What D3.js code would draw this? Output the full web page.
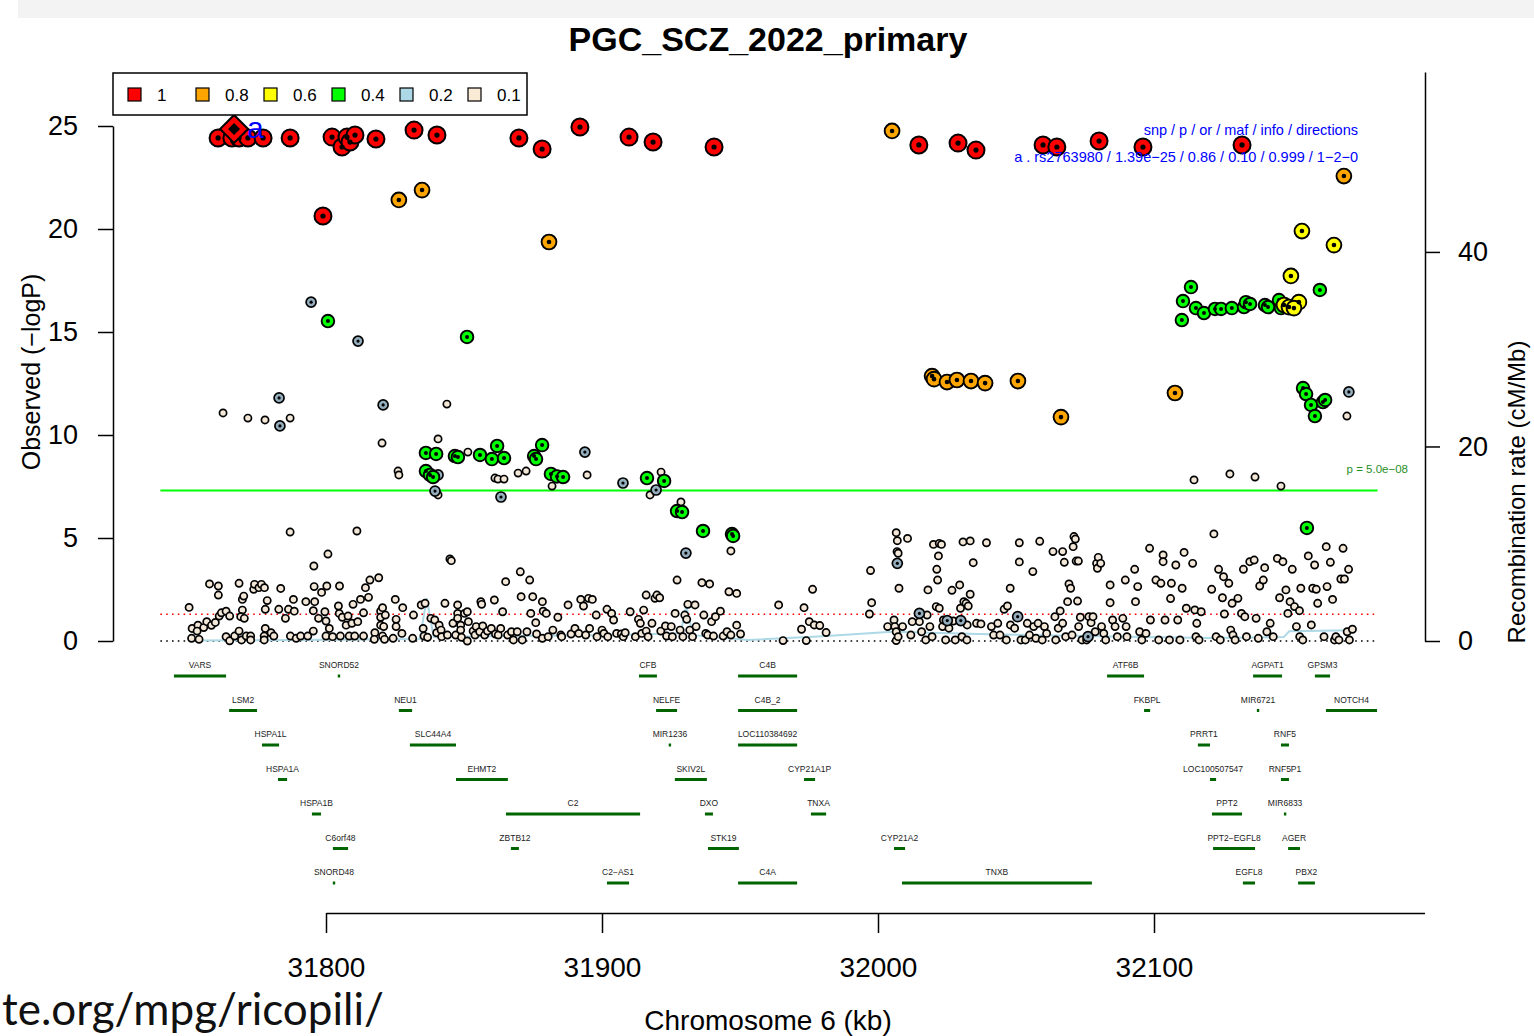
<!DOCTYPE html>
<html>
<head>
<meta charset="utf-8">
<script src="https://cdn.jsdelivr.net/npm/d3@7"></script>
<style>
  body { margin: 0; background: #fff; }
  text { font-family: "Liberation Sans", Arial, sans-serif; }
</style>
</head>
<body>
<div id="chart"></div>
<script>
// LD legend
const ldLabels = ["1", "0.8", "0.6", "0.4", "0.2", "0.1"];
const ldColors = ["#ff0000", "#ffa500", "#ffff00", "#00ff00", "#add8e6", "#faebd7"];

// SNPs as [position kb, -log10 p], one array per LD bin
const ld10 = [
  [31760.9, 24.42], [31765.9, 24.42], [31768.5, 24.42], [31771.7, 24.42], [31777.2, 24.42],
  [31787.0, 24.42], [31802.2, 24.46], [31805.8, 23.98], [31807.6, 24.46], [31808.7, 24.22],
  [31810.5, 24.56], [31818.1, 24.37], [31831.9, 24.80], [31840.2, 24.56], [31798.9, 20.63],
  [31869.9, 24.42], [31878.3, 23.88], [31892.0, 24.95], [31909.8, 24.46], [31918.5, 24.22],
  [31940.6, 23.98], [32014.8, 24.08], [32029.0, 24.17], [32035.5, 23.83], [32059.8, 24.08],
  [32064.8, 23.98], [32080.1, 24.27], [32096.0, 23.98], [32131.9, 24.08]
];
const ld08 = [
  [31826.4, 21.41], [31834.8, 21.89], [31880.8, 19.37], [32005.1, 24.76], [32168.8, 22.57],
  [32019.6, 12.86], [32020.3, 12.71], [32025.0, 12.57], [32028.6, 12.67], [32033.7, 12.62],
  [32038.8, 12.52], [32050.7, 12.62], [32066.3, 10.87], [32107.6, 12.04]
];
const ld06 = [
  [32153.6, 19.90], [32165.2, 19.22], [32149.6, 17.72], [32152.5, 16.45], [32147.1, 16.31],
  [32148.9, 16.21], [32150.7, 16.16]
];
const ld04 = [
  [31800.7, 15.53], [31851.1, 14.76], [31836.2, 9.13], [31839.9, 9.08], [31846.7, 8.98],
  [31847.8, 8.93], [31855.8, 9.03], [31862.0, 9.47], [31860.1, 8.83], [31864.5, 8.88],
  [31875.4, 8.98], [31876.1, 8.83], [31878.3, 9.51], [31836.2, 8.25], [31837.7, 8.06],
  [31838.8, 7.96], [31881.5, 8.11], [31883.7, 7.99], [31885.9, 7.96], [31916.3, 7.91],
  [31922.5, 7.77], [31927.2, 6.31], [31929.0, 6.26], [31936.6, 5.34], [31947.1, 5.19],
  [31947.5, 5.10],
  [32113.4, 17.18], [32110.5, 16.50], [32110.1, 15.58], [32115.2, 16.16], [32118.1, 15.92],
  [32122.1, 16.12], [32124.3, 16.12], [32128.2, 16.16], [32132.6, 16.21], [32133.3, 16.45],
  [32134.8, 16.36], [32140.2, 16.31], [32141.3, 16.21], [32145.3, 16.55], [32146.0, 16.16],
  [32160.1, 17.04], [32154.0, 12.28], [32155.1, 11.99], [32156.9, 11.46], [32158.3, 10.92],
  [32161.2, 11.60], [32162.0, 11.70], [32155.4, 5.49]
];
const ld02 = [
  [31794.6, 16.45], [31811.6, 14.56], [31783.0, 11.80], [31783.3, 10.44], [31820.7, 11.46],
  [31893.8, 9.17], [31907.6, 7.67], [31919.6, 7.33], [31930.4, 4.27], [31863.4, 6.99],
  [31839.5, 7.28], [31840.6, 8.06], [32170.6, 12.09],
  [32007.0, 3.77], [32015.0, 1.34], [32025.1, 0.99], [32030.0, 0.99], [32050.6, 1.18], [32076.1, 0.21]
];
const ld01 = [
  // upper left scatter
  [31762.7, 11.07], [31771.7, 10.82], [31777.9, 10.73], [31787.0, 10.82], [31843.8, 11.50],
  [31820.3, 9.61], [31840.6, 9.81], [31851.4, 9.17], [31826.1, 8.25], [31826.4, 8.06],
  [31861.2, 7.91], [31862.3, 7.86], [31864.5, 7.86], [31869.6, 8.15], [31872.5, 8.25],
  [31881.9, 7.52], [31894.6, 8.06], [31840.6, 7.09], [31787.0, 5.29], [31811.2, 5.34],
  [31800.7, 4.22], [31844.9, 3.98], [31921.4, 8.20], [31917.4, 7.09], [31928.6, 6.75],
  [31946.7, 4.37], [32114.5, 7.82], [32127.5, 8.11], [32136.6, 7.96], [32146.0, 7.52],
  [32169.9, 10.92],
  // low band, left part
  [31750.4, 1.63], [31751.3, 0.13], [31751.5, 0.61], [31753.6, 0.77], [31754.0, 0.08],
  [31753.3, 0.48], [31755.7, 0.65], [31756.8, 0.94], [31757.8, 2.77], [31758.5, 0.76],
  [31759.9, 0.90], [31761.0, 2.67], [31761.0, 2.23], [31761.3, 1.21], [31762.1, 1.37],
  [31763.8, 1.45], [31763.8, 0.21], [31765.1, 1.21], [31765.1, 0.01], [31766.9, 0.24],
  [31768.5, 2.80], [31768.5, 0.48], [31769.4, 0.05], [31769.7, 1.50], [31769.7, 2.02],
  [31770.2, 2.18], [31769.1, 1.18], [31770.4, 1.10], [31771.1, 0.24], [31772.7, 0.24],
  [31772.7, 0.05], [31773.8, 2.51], [31774.1, 2.75], [31775.7, 2.59], [31776.6, 2.75],
  [31777.7, 2.59], [31777.6, 0.24], [31777.6, 0.05], [31778.0, 1.54], [31778.7, 1.96],
  [31778.0, 0.61], [31780.1, 0.40], [31781.1, 0.24], [31783.6, 2.55], [31782.9, 1.54],
  [31785.3, 1.10], [31786.4, 1.54], [31787.1, 0.24], [31788.2, 2.02], [31788.5, 1.45],
  [31789.2, 0.13], [31790.8, 0.24], [31792.7, 1.91], [31793.4, 0.24], [31795.6, 3.64],
  [31795.7, 2.64], [31795.9, 1.91], [31795.4, 1.47], [31795.4, 0.48], [31797.3, 1.10],
  [31798.4, 2.36], [31799.6, 1.42], [31800.3, 2.67], [31800.0, 0.97], [31800.0, 0.24],
  [31801.2, 0.61], [31802.4, 0.21], [31804.5, 1.70], [31804.9, 2.67], [31804.8, 1.34],
  [31805.2, 0.24], [31805.9, 1.15], [31807.3, 0.77], [31808.0, 1.21], [31808.4, 0.24],
  [31809.4, 0.86], [31809.8, 1.78], [31810.4, 0.24], [31811.5, 0.94], [31812.5, 2.02],
  [31813.6, 0.24], [31813.6, 1.37], [31814.3, 2.59], [31815.4, 2.12], [31815.9, 2.96],
  [31817.7, 0.40], [31817.5, 0.08], [31819.1, 3.07], [31819.8, 1.45], [31819.8, 1.15],
  [31819.8, 0.77], [31820.5, 1.62], [31820.5, 0.24], [31821.2, 0.08], [31820.9, 0.70],
  [31821.5, 1.26], [31825.1, 2.02], [31825.4, 1.05], [31825.4, 0.70], [31824.3, 0.13],
  [31827.8, 1.62], [31827.5, 0.37], [31831.7, 1.26], [31831.4, 0.13], [31834.5, 1.75],
  [31835.2, 0.61], [31835.9, 1.83], [31835.5, 0.24], [31836.8, 0.18], [31838.0, 1.10],
  [31839.4, 1.02], [31840.1, 0.40], [31841.0, 0.77], [31841.7, 0.53], [31841.9, 0.21],
  [31843.1, 1.83], [31844.0, 0.29], [31845.4, 3.90], [31846.0, 0.86], [31847.0, 0.29],
  [31847.7, 1.75], [31847.7, 1.34], [31847.7, 1.10], [31848.8, 0.77], [31848.8, 0.53],
  [31849.1, 0.18], [31850.2, 1.34], [31851.2, 1.42], [31851.2, 0.00], [31851.6, 0.94],
  [31853.3, 0.48], [31854.0, 0.29], [31854.4, 0.70], [31855.7, 0.45], [31856.1, 1.91],
  [31856.4, 1.78], [31856.8, 0.73], [31857.5, 0.29], [31858.5, 0.48], [31859.9, 0.61],
  [31861.0, 1.99], [31861.4, 0.34], [31862.4, 0.29], [31863.3, 0.61], [31864.0, 1.42],
  [31865.1, 2.88], [31865.8, 0.29], [31867.2, 0.45], [31867.9, 0.05], [31869.3, 0.45],
  [31870.4, 3.36], [31870.7, 2.15], [31871.1, 0.05], [31872.8, 0.45], [31873.8, 2.96],
  [31874.2, 1.34], [31874.9, 2.15], [31876.0, 0.89], [31876.3, 0.34], [31878.4, 1.91],
  [31878.7, 1.45], [31878.4, 0.13], [31879.8, 1.34], [31880.5, 0.21], [31882.2, 0.53],
  [31884.0, 1.15], [31885.1, 0.29], [31885.4, 0.21], [31887.7, 1.75], [31888.8, 0.34],
  [31890.2, 0.61], [31891.6, 0.37], [31892.3, 2.02], [31893.3, 1.70], [31894.1, 0.29],
  [31895.1, 2.07], [31895.5, 0.61], [31896.5, 2.02], [31897.9, 1.26], [31898.2, 0.21],
  [31900.0, 0.53], [31900.7, 0.37], [31901.8, 1.54], [31902.1, 0.21], [31903.5, 1.34],
  [31904.2, 1.02], [31905.3, 0.37], [31907.0, 0.34], [31907.7, 0.21], [31908.4, 0.40],
  [31910.2, 1.42], [31912.1, 0.21], [31913.2, 1.05], [31913.9, 0.86], [31914.4, 0.37],
  [31915.1, 1.50], [31916.0, 2.23], [31916.0, 0.48], [31916.7, 0.21], [31918.1, 0.86],
  [31919.2, 2.07], [31919.9, 2.23], [31920.9, 2.10], [31921.3, 0.48], [31923.0, 0.73],
  [31923.4, 0.24], [31925.1, 0.70], [31925.5, 0.21], [31927.2, 2.96], [31926.5, 1.34],
  [31928.3, 0.53], [31929.3, 0.21], [31930.0, 1.26], [31930.7, 1.05], [31931.1, 1.78],
  [31931.8, 0.53], [31932.8, 0.21], [31933.7, 1.75], [31934.1, 0.70], [31936.2, 2.83],
  [31936.9, 1.26], [31937.6, 0.37], [31939.0, 2.77], [31938.3, 0.29], [31939.7, 0.94],
  [31940.4, 0.24], [31941.1, 1.18], [31942.9, 1.45], [31943.9, 0.24], [31945.3, 0.45],
  [31946.0, 2.39], [31946.7, 0.29], [31948.8, 2.31], [31948.8, 0.77], [31950.2, 0.34],
  // low band, right part
  [31964.0, 1.75], [31965.6, 0.02], [31972.3, 0.57], [31973.2, 1.62], [31974.0, 0.02],
  [31975.1, 0.94], [31976.3, 2.51], [31976.9, 0.78], [31978.9, 0.75], [31981.2, 0.41],
  [31997.3, 3.42], [31997.7, 1.86], [31996.9, 1.31], [32003.5, 0.70], [32006.6, 5.26],
  [32007.0, 4.87], [32006.9, 4.34], [32007.3, 4.26], [32007.6, 2.56], [32005.8, 1.02],
  [32006.1, 0.70], [32006.6, 0.45], [32006.6, 0.02], [32007.3, 0.21], [32008.9, 0.70],
  [32010.7, 4.98], [32011.9, 0.29], [32012.4, 0.94], [32015.0, 0.94], [32015.8, 0.45],
  [32017.3, 0.05], [32017.8, 1.26], [32018.1, 2.48], [32018.8, 0.70], [32019.6, 0.21],
  [32020.1, 4.69], [32021.1, 1.67], [32021.3, 3.48], [32021.6, 2.96], [32021.9, 4.13],
  [32022.2, 4.74], [32023.0, 4.69], [32022.2, 1.59], [32023.4, 0.70], [32023.7, 1.02],
  [32024.5, 0.05], [32025.7, 0.62], [32026.8, 2.46], [32027.3, 0.97], [32028.0, 0.05],
  [32029.6, 2.72], [32029.9, 1.59], [32030.4, 0.21], [32030.8, 4.81], [32031.1, 1.91],
  [32031.9, 1.83], [32032.2, 0.05], [32032.3, 0.78], [32032.7, 1.70], [32033.4, 4.86],
  [32033.4, 2.27], [32034.5, 3.80], [32035.7, 0.86], [32037.3, 0.83], [32039.3, 4.77],
  [32041.1, 0.70], [32041.9, 0.29], [32043.4, 0.86], [32044.2, 0.29], [32045.7, 1.54],
  [32046.5, 0.05], [32046.9, 1.70], [32048.0, 0.78], [32047.9, 2.56], [32049.5, 0.62],
  [32051.2, 4.77], [32051.2, 3.84], [32051.8, 0.05], [32053.4, 0.05], [32054.1, 0.86],
  [32054.9, 0.29], [32056.1, 3.37], [32056.4, 0.70], [32057.2, 0.13], [32058.0, 0.86],
  [32058.6, 4.84], [32059.5, 0.05], [32060.3, 0.70], [32061.1, 0.37], [32063.4, 4.34],
  [32064.1, 1.18], [32064.4, 0.05], [32065.3, 0.62], [32066.0, 1.46], [32066.9, 4.34],
  [32067.5, 3.82], [32066.9, 0.86], [32068.0, 0.21], [32068.7, 1.91], [32069.2, 2.77],
  [32069.8, 2.56], [32070.3, 0.29], [32070.7, 4.58], [32071.0, 5.07], [32071.5, 4.95],
  [32071.8, 3.88], [32072.6, 3.88], [32072.3, 1.94], [32072.7, 0.70], [32073.3, 1.15],
  [32073.9, 0.05], [32075.6, 0.05], [32076.4, 1.18], [32077.2, 0.89], [32077.9, 1.18],
  [32078.7, 0.45], [32079.2, 3.77], [32079.5, 3.53], [32079.8, 4.06], [32080.7, 3.77],
  [32081.0, 0.70], [32081.8, 0.37], [32082.5, 0.05], [32084.1, 2.72], [32084.1, 1.86],
  [32085.0, 1.02], [32085.9, 0.70], [32086.7, 0.21], [32088.7, 1.10], [32089.6, 2.96],
  [32089.9, 0.70], [32090.2, 0.21], [32093.0, 3.48], [32093.3, 1.91], [32094.1, 2.64],
  [32094.8, 0.45], [32095.6, 0.05], [32097.1, 0.37], [32098.4, 4.50], [32098.7, 1.02],
  [32100.7, 2.96], [32101.7, 0.05], [32102.5, 2.80], [32103.3, 4.18], [32103.3, 3.85],
  [32104.0, 1.02], [32105.6, 0.05], [32106.0, 2.06], [32106.3, 2.80], [32107.9, 3.69],
  [32108.6, 1.02], [32109.4, 0.05], [32110.2, 2.56], [32110.9, 4.30], [32111.7, 1.59],
  [32114.0, 3.77], [32114.8, 1.51], [32115.2, 0.21], [32115.5, 0.86], [32116.3, 0.05],
  [32117.1, 1.42], [32120.9, 2.51], [32121.7, 5.20], [32122.5, 0.21], [32123.4, 3.48],
  [32124.0, 0.05], [32124.8, 2.10], [32125.2, 3.12], [32125.5, 1.31], [32127.1, 2.80],
  [32127.8, 0.53], [32128.3, 1.83], [32128.6, 0.29], [32129.4, 0.05], [32130.4, 2.07],
  [32131.7, 1.34], [32132.4, 3.48], [32132.9, 1.18], [32133.5, 0.21], [32134.7, 3.85],
  [32136.3, 3.93], [32137.0, 1.10], [32137.8, 0.13], [32138.3, 2.67], [32139.6, 2.96],
  [32140.1, 3.56], [32140.9, 0.45], [32142.1, 0.86], [32143.2, 0.21], [32144.7, 4.01],
  [32145.5, 2.10], [32146.7, 3.85], [32147.8, 2.48], [32148.5, 1.34], [32149.3, 1.91],
  [32150.1, 3.48], [32150.9, 1.67], [32151.6, 0.70], [32152.7, 1.47], [32153.2, 2.56],
  [32152.8, 0.21], [32153.9, 0.05], [32155.9, 4.13], [32157.0, 0.78], [32157.5, 2.56],
  [32158.2, 3.69], [32158.8, 2.51], [32159.3, 1.83], [32161.6, 0.21], [32162.4, 4.58],
  [32162.7, 2.64], [32163.9, 3.82], [32164.7, 2.02], [32165.4, 0.05], [32165.9, 0.21],
  [32167.0, 0.05], [32167.7, 3.01], [32168.5, 4.50], [32169.0, 3.01], [32170.0, 0.45],
  [32170.5, 3.48], [32170.8, 0.05], [32171.9, 0.57]
];

// index SNP
const indexSnp = { label: "a", pos: 31766.7, logp: 24.857 };
const annotHeader = "snp / p / or / maf / info / directions";
const annotLine = "a . rs2763980 / 1.39e\u221225 / 0.86 / 0.10 / 0.999 / 1\u22122\u22120";

// recombination rate [kb, cM/Mb]
const recomb = [
  [31752, 0.05], [31790, 0.1], [31834, 0.2], [31836.5, 4.4], [31839, 0.4], [31860, 0.5],
  [31900, 0.6], [31928.5, 0.8], [31930.5, 3.6], [31933, 0.6], [31953, 0.1], [31980, 0.5],
  [32005, 0.95], [32040, 0.7], [32080, 0.5], [32120, 0.3], [32147, 0.4], [32149, 1.0], [32172, 1.1]
];

// genes: [name, start kb, end kb, row]
const genes = [
  ["VARS", 31744.9, 31763.8, 0], ["SNORD52", 31804.7, 31804.7, 0], ["CFB", 31913.4, 31919.9, 0],
  ["C4B", 31949.3, 31970.7, 0], ["ATF6B", 32083.0, 32096.4, 0], ["AGPAT1", 32135.9, 32146.4, 0],
  ["GPSM3", 32158.3, 32163.8, 0],
  ["LSM2", 31764.9, 31775.0, 1], ["NEU1", 31826.4, 31831.2, 1], ["NELFE", 31919.6, 31927.2, 1],
  ["C4B_2", 31949.3, 31970.7, 1], ["FKBPL", 32096.4, 32098.6, 1], ["MIR6721", 32137.7, 32137.7, 1],
  ["NOTCH4", 32162.3, 32180.8, 1],
  ["HSPA1L", 31776.8, 31783.0, 2], ["SLC44A4", 31830.4, 31847.1, 2], ["MIR1236", 31924.6, 31924.6, 2],
  ["LOC110384692", 31949.3, 31970.7, 2], ["PRRT1", 32115.9, 32120.3, 2], ["RNF5", 32146.0, 32148.9, 2],
  ["HSPA1A", 31782.6, 31785.9, 3], ["EHMT2", 31847.1, 31865.9, 3], ["SKIV2L", 31926.4, 31938.0, 3],
  ["CYP21A1P", 31973.2, 31977.2, 3], ["LOC100507547", 32120.3, 32122.5, 3], ["RNF5P1", 32146.0, 32148.9, 3],
  ["HSPA1B", 31794.9, 31798.2, 4], ["C2", 31865.2, 31913.8, 4], ["DXO", 31937.3, 31940.2, 4],
  ["TNXA", 31975.7, 31981.2, 4], ["PPT2", 32121.0, 32131.9, 4], ["MIR6833", 32147.5, 32147.5, 4],
  ["C6orf48", 31802.5, 31808.0, 5], ["ZBTB12", 31867.0, 31869.9, 5], ["STK19", 31938.4, 31949.6, 5],
  ["CYP21A2", 32005.8, 32009.8, 5], ["PPT2\u2212EGFL8", 32121.4, 32136.6, 5], ["AGER", 32148.6, 32152.9, 5],
  ["SNORD48", 31802.9, 31802.9, 6], ["C2\u2212AS1", 31901.8, 31909.8, 6], ["C4A", 31949.3, 31970.7, 6],
  ["TNXB", 32008.7, 32077.5, 6], ["EGFL8", 32132.2, 32136.6, 6], ["PBX2", 32152.2, 32158.3, 6]
];

const xTicks = [31800, 31900, 32000, 32100];
const yTicks = [0, 5, 10, 15, 20, 25];
const rTicks = [0, 20, 40];
const gwsLine = 7.30103;   // p = 5e-08
const nomLine = 1.30103;   // p = 0.05
const lineSpan = [31740, 32181];

const W = 1534, H = 1036;
const svg = d3.select("#chart").append("svg")
  .attr("width", W).attr("height", H)
  .style("display", "block");

const x = d3.scaleLinear().domain([31800, 32100]).range([326, 1154]);
const y = d3.scaleLinear().domain([0, 25]).range([641, 126]);
const yR = d3.scaleLinear().domain([0, 58.5]).range([641, 72]);
const row = d3.scaleLinear().domain([0, 6]).range([676, 883]);

// slide edge at top
svg.append("rect").attr("x", 18).attr("y", 0).attr("width", W - 18).attr("height", 18)
  .attr("fill", "#f3f3f3");

// title
svg.append("text").attr("x", 768).attr("y", 51)
  .attr("text-anchor", "middle").style("font-size", "34px").style("font-weight", "bold")
  .text("PGC_SCZ_2022_primary");

// threshold lines
const hline = (v, color, dash, w) => svg.append("line")
  .attr("x1", x(lineSpan[0])).attr("x2", x(lineSpan[1]))
  .attr("y1", y(v)).attr("y2", y(v))
  .attr("stroke", color).attr("stroke-width", w)
  .attr("stroke-dasharray", dash);
hline(0, "#000", "1.6,4.2", 1.6);
hline(nomLine, "#ff0000", "1.6,4.2", 1.6);
hline(gwsLine, "#00ff00", null, 2);

svg.append("text").attr("x", 1408).attr("y", 473).attr("text-anchor", "end")
  .style("font-size", "11.5px").attr("fill", "#1f8f1f").text("p = 5.0e\u221208");

// recombination rate
svg.append("path").datum(recomb)
  .attr("d", d3.line().x(d => x(d[0])).y(d => yR(d[1])))
  .attr("fill", "none").attr("stroke", "#add8e6").attr("stroke-width", 2);

// points, low LD first
const ptStyle = [
  { r: 8.5, sw: 2.0, dot: 2.6, fill: "#ff0000" },
  { r: 7.4, sw: 1.9, dot: 2.3, fill: "#ffa500" },
  { r: 7.4, sw: 1.9, dot: 2.3, fill: "#ffff00" },
  { r: 6.3, sw: 1.9, dot: 2.0, fill: "#00ff00" },
  { r: 5.0, sw: 1.7, dot: 1.6, fill: "#94aebd" },
  { r: 3.6, sw: 1.7, dot: 0, fill: "#f3e7d8" }
];
const sets = [ld10, ld08, ld06, ld04, ld02, ld01];
const gp = svg.append("g");
for (let i = sets.length - 1; i >= 0; i--) {
  const s = ptStyle[i];
  const g = gp.append("g");
  g.selectAll("circle").data(sets[i]).join("circle")
    .attr("cx", d => x(d[0])).attr("cy", d => y(d[1])).attr("r", s.r)
    .attr("fill", s.fill).attr("stroke", "#000").attr("stroke-width", s.sw);
  if (s.dot) {
    g.selectAll("circle.dot").data(sets[i]).join("circle").attr("class", "dot")
      .attr("cx", d => x(d[0])).attr("cy", d => y(d[1])).attr("r", s.dot).attr("fill", "#000");
  }
}

// index SNP diamond
const ix = x(indexSnp.pos), iy = y(indexSnp.logp);
svg.append("path")
  .attr("d", `M${ix},${iy - 14}L${ix + 14},${iy}L${ix},${iy + 14}L${ix - 14},${iy}Z`)
  .attr("fill", "#ff0000").attr("stroke", "#000").attr("stroke-width", 2);
svg.append("path")
  .attr("d", `M${ix},${iy - 6}L${ix + 6},${iy}L${ix},${iy + 6}L${ix - 6},${iy}Z`)
  .attr("fill", "#000");
svg.append("text").attr("x", ix + 13).attr("y", iy + 9)
  .style("font-size", "30px").attr("fill", "#0000ff").text(indexSnp.label);

// annotation
svg.append("text").attr("x", 1358).attr("y", 135).attr("text-anchor", "end")
  .style("font-size", "14.5px").attr("fill", "#0000ff").text(annotHeader);
svg.append("text").attr("x", 1358).attr("y", 162).attr("text-anchor", "end")
  .style("font-size", "14.5px").attr("fill", "#0000ff").text(annotLine);

// legend
const lg = svg.append("g");
lg.append("rect").attr("x", 113).attr("y", 73).attr("width", 414).attr("height", 42)
  .attr("fill", "#fff").attr("stroke", "#000").attr("stroke-width", 1.5);
const li = lg.selectAll("g.item").data(ldLabels).join("g").attr("class", "item")
  .attr("transform", (d, i) => `translate(${128 + i * 68},88)`);
li.append("rect").attr("width", 13).attr("height", 13)
  .attr("fill", (d, i) => ldColors[i]).attr("stroke", "#000").attr("stroke-width", 1.2);
li.append("text").attr("x", 29).attr("y", 13).style("font-size", "17px").text(d => d);

// axes
function styleAxis(g, fs) {
  g.selectAll("path.domain").attr("stroke-width", 1.5);
  g.selectAll(".tick line").attr("stroke-width", 1.5);
  g.selectAll(".tick text").style("font-size", fs).style("font-family", "'Liberation Sans', Arial, sans-serif").attr("fill", "#000");
}
svg.append("g").attr("transform", "translate(113,0)")
  .call(d3.axisLeft(y).tickValues(yTicks).tickSize(15).tickSizeOuter(0).tickPadding(20).tickFormat(d3.format("d")))
  .call(g => styleAxis(g, "27px"));
svg.append("g").attr("transform", "translate(1425,0)")
  .call(d3.axisRight(yR).tickValues(rTicks).tickSize(15).tickSizeOuter(0).tickPadding(18).tickFormat(d3.format("d")))
  .call(g => styleAxis(g, "27px"));
const xAxisScale = d3.scaleLinear().domain([31800, 32198]).range([x(31800), x(32198)]);
svg.append("g").attr("transform", "translate(0,913)")
  .call(d3.axisBottom(xAxisScale).tickValues(xTicks).tickSize(20).tickSizeOuter(0).tickPadding(24).tickFormat(d3.format("d")))
  .call(g => styleAxis(g, "28px"));

// axis titles
svg.append("text").attr("transform", "translate(40,372) rotate(-90)").attr("text-anchor", "middle")
  .style("font-size", "25px").text("Observed (\u2212logP)");
svg.append("text").attr("transform", "translate(1525,492) rotate(-90)").attr("text-anchor", "middle")
  .style("font-size", "24px").text("Recombination rate (cM/Mb)");
svg.append("text").attr("x", 768).attr("y", 1030).attr("text-anchor", "middle")
  .style("font-size", "28px").text("Chromosome 6 (kb)");

// genes
const gg = svg.append("g");
gg.selectAll("line").data(genes).join("line")
  .attr("x1", d => x(d[1]) - (d[1] === d[2] ? 1.2 : 0))
  .attr("x2", d => x(d[2]) + (d[1] === d[2] ? 1.2 : 0))
  .attr("y1", d => row(d[3])).attr("y2", d => row(d[3]))
  .attr("stroke", "#006400").attr("stroke-width", 3);
gg.selectAll("text").data(genes).join("text")
  .attr("x", d => (x(d[1]) + x(d[2])) / 2).attr("y", d => row(d[3]) - 8)
  .attr("text-anchor", "middle").style("font-size", "8.5px").attr("fill", "#222")
  .text(d => d[0]);

// slide footer fragment
svg.append("text").attr("x", 2).attr("y", 1025)
  .style("font-family", "Lato, 'Open Sans', sans-serif").style("font-size", "44px").attr("fill", "#111")
  .text("te.org/mpg/ricopili/");
</script>
</body>
</html>
